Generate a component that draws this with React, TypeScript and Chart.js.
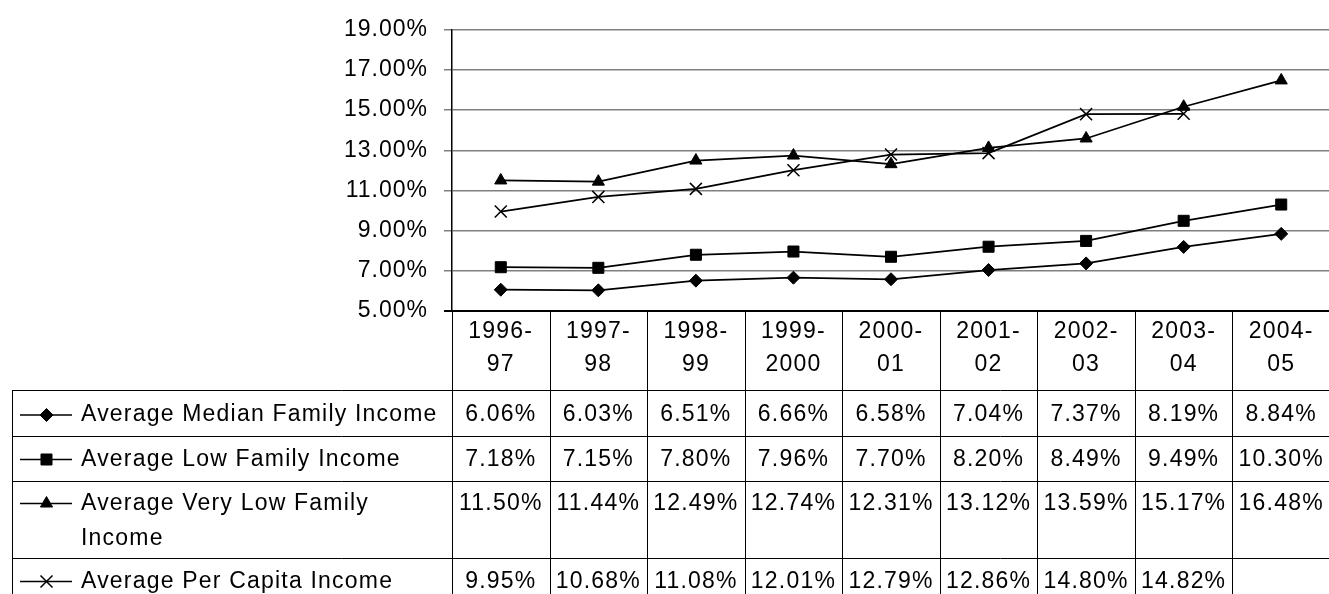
import React, { useEffect, useRef } from 'react';
import { Chart, registerables } from 'chart.js';

Chart.register(...registerables);

const categories = ['1996-97', '1997-98', '1998-99', '1999-2000', '2000-01', '2001-02', '2002-03', '2003-04', '2004-05'];
const seriesNames = [
  'Average Median Family Income',
  'Average Low Family Income',
  'Average Very Low Family Income',
  'Average Per Capita Income',
];
const medianFamily = [6.06, 6.03, 6.51, 6.66, 6.58, 7.04, 7.37, 8.19, 8.84];
const lowFamily = [7.18, 7.15, 7.8, 7.96, 7.7, 8.2, 8.49, 9.49, 10.3];
const veryLowFamily = [11.5, 11.44, 12.49, 12.74, 12.31, 13.12, 13.59, 15.17, 16.48];
const perCapita: (number | null)[] = [9.95, 10.68, 11.08, 12.01, 12.79, 12.86, 14.8, 14.82, null];
const yMin = 5;
const yMax = 19;
const yStep = 2;

const seriesValues = [medianFamily, lowFamily, veryLowFamily, perCapita];
const markerStyles = ['rectRot', 'rect', 'triangle', 'crossRot'];
const markerRadii = [6.5, 7.8, 7, 8.5];

const FONT_FAMILY = '"Liberation Sans", Arial, sans-serif';
const FONT_SIZE = 23;
const TABLE_FONT = `${FONT_SIZE}px ${FONT_FAMILY}`;

function drawMarker(ctx: CanvasRenderingContext2D, style: string, x: number, y: number, r: number) {
  ctx.save();
  ctx.fillStyle = '#000';
  ctx.strokeStyle = '#000';
  ctx.lineWidth = 1;
  ctx.beginPath();
  if (style === 'rectRot') {
    ctx.moveTo(x - r, y);
    ctx.lineTo(x, y - r);
    ctx.lineTo(x + r, y);
    ctx.lineTo(x, y + r);
    ctx.closePath();
    ctx.fill();
    ctx.stroke();
  } else if (style === 'rect') {
    const s = r * Math.SQRT1_2;
    ctx.rect(x - s, y - s, 2 * s, 2 * s);
    ctx.fill();
    ctx.stroke();
  } else if (style === 'triangle') {
    ctx.moveTo(x, y - r);
    ctx.lineTo(x + 0.866 * r, y + 0.5 * r);
    ctx.lineTo(x - 0.866 * r, y + 0.5 * r);
    ctx.closePath();
    ctx.fill();
    ctx.stroke();
  } else {
    const s = r * Math.SQRT1_2;
    ctx.lineWidth = 1.5;
    ctx.moveTo(x - s, y - s);
    ctx.lineTo(x + s, y + s);
    ctx.moveTo(x + s, y - s);
    ctx.lineTo(x - s, y + s);
    ctx.stroke();
  }
  ctx.restore();
}

function wrapText(ctx: CanvasRenderingContext2D, text: string, maxWidth: number): string[] {
  const words = text.split(' ');
  const lines: string[] = [];
  let cur = '';
  for (const w of words) {
    const test = cur ? cur + ' ' + w : w;
    if (ctx.measureText(test).width > maxWidth && cur) {
      lines.push(cur);
      cur = w;
    } else {
      cur = test;
    }
  }
  if (cur) lines.push(cur);
  return lines;
}

const spacingPlugin = {
  id: 'letterSpacing',
  beforeDraw(chart: any) {
    (chart.ctx as any).letterSpacing = '1px';
  },
};

const tablePlugin = {
  id: 'dataTable',
  afterDraw(chart: any) {
    const ctx: CanvasRenderingContext2D = chart.ctx;
    const xs = chart.scales.x;
    const area = chart.chartArea;
    const n = categories.length;
    const bounds: number[] = [area.left];
    for (let i = 1; i < n; i++) bounds.push((xs.getPixelForValue(i - 1) + xs.getPixelForValue(i)) / 2);
    bounds.push(area.right);

    const top = area.bottom;
    const headerBottom = top + 79;
    const rowHeights = [46, 45, 77, 46];
    const rowTops: number[] = [];
    let yy = headerBottom;
    for (const h of rowHeights) {
      rowTops.push(yy);
      yy += h;
    }
    const tableBottom = yy;
    const legendLeft = 12;
    const lineH = 35;

    ctx.save();
    ctx.strokeStyle = '#000';
    ctx.lineWidth = 1;
    ctx.beginPath();
    for (const b of bounds) {
      const bx = Math.round(b) + 0.5;
      ctx.moveTo(bx, top);
      ctx.lineTo(bx, tableBottom);
    }
    ctx.moveTo(legendLeft + 0.5, headerBottom);
    ctx.lineTo(legendLeft + 0.5, tableBottom);
    for (const t of [...rowTops, tableBottom]) {
      const ty = Math.round(t) + 0.5;
      ctx.moveTo(legendLeft, ty);
      ctx.lineTo(area.right, ty);
    }
    ctx.stroke();

    ctx.lineWidth = 2;
    ctx.beginPath();
    ctx.moveTo(area.left - 8, top);
    ctx.lineTo(area.right, top);
    ctx.stroke();

    ctx.font = TABLE_FONT;
    (ctx as any).letterSpacing = '1.2px';
    ctx.fillStyle = '#000';
    ctx.textBaseline = 'middle';

    ctx.textAlign = 'center';
    categories.forEach((c, i) => {
      const idx = c.indexOf('-');
      const l1 = c.slice(0, idx + 1);
      const l2 = c.slice(idx + 1);
      const cx = xs.getPixelForValue(i);
      ctx.fillText(l1, cx, top + 21);
      ctx.fillText(l2, cx, top + 54);
    });

    const rowOffsets = [25, 23.5, 22.5, 23.5];
    seriesNames.forEach((name, r) => {
      const cy = rowTops[r] + rowOffsets[r];
      ctx.save();
      ctx.strokeStyle = '#000';
      ctx.lineWidth = 1.7;
      ctx.beginPath();
      ctx.moveTo(20, cy);
      ctx.lineTo(72, cy);
      ctx.stroke();
      ctx.restore();
      drawMarker(ctx, markerStyles[r], 46.5, cy, markerRadii[r]);
      ctx.textAlign = 'left';
      const lines = wrapText(ctx, name, area.left - 81 - 4);
      lines.forEach((ln, k) => ctx.fillText(ln, 81, cy + k * lineH));
      ctx.textAlign = 'center';
      seriesValues[r].forEach((v, i) => {
        if (v === null || v === undefined) return;
        ctx.fillText(v.toFixed(2) + '%', xs.getPixelForValue(i), cy);
      });
    });
    ctx.restore();
  },
};

export default function App() {
  const ref = useRef<HTMLCanvasElement>(null);
  useEffect(() => {
    document.body.style.margin = '0';
    const canvas = ref.current!;
    const chart = new Chart(canvas, {
      type: 'line',
      data: {
        labels: categories,
        datasets: seriesValues.map((vals, i) => ({
          label: seriesNames[i],
          data: vals,
          borderColor: '#000',
          backgroundColor: '#000',
          borderWidth: 1.75,
          pointStyle: markerStyles[i] as any,
          pointRadius: markerRadii[i],
          pointBorderWidth: i === 3 ? 1.5 : 1,
          pointBackgroundColor: '#000',
          pointBorderColor: '#000',
          tension: 0,
          spanGaps: false,
        })),
      },
      options: {
        responsive: false,
        animation: false,
        devicePixelRatio: 1,
        layout: { padding: { top: 27, bottom: 283, left: 0, right: 6 } },
        plugins: { legend: { display: false }, tooltip: { enabled: false } },
        scales: {
          x: { type: 'category', offset: true, display: false },
          y: {
            min: yMin,
            max: yMax,
            afterFit: (s: any) => {
              s.width = 452;
            },
            ticks: {
              stepSize: yStep,
              color: '#000',
              padding: 16,
              font: { family: FONT_FAMILY, size: FONT_SIZE },
              callback: (v: any) => Number(v).toFixed(2) + '%',
            },
            grid: {
              color: '#808080',
              lineWidth: 1.5,
              tickLength: 8,
            },
            border: { color: '#000', width: 1.5 },
          },
        },
      },
      plugins: [spacingPlugin, tablePlugin],
    });
    return () => chart.destroy();
  }, []);
  return (
    <div style={{ width: 1329, height: 594, overflow: 'hidden', position: 'relative', background: '#fff' }}>
      <canvas ref={ref} width={1340} height={594} style={{ display: 'block', width: 1340, height: 594 }} />
    </div>
  );
}
